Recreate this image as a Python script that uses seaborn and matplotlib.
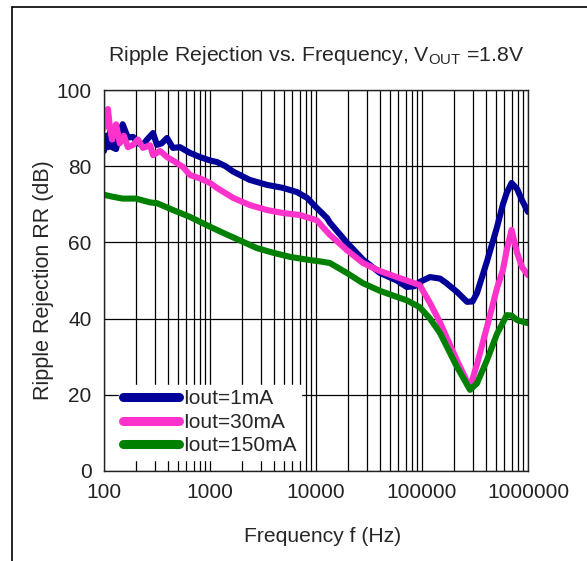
import numpy as np
import pandas as pd
import seaborn as sns
import matplotlib
matplotlib.use("Agg")
import matplotlib.pyplot as plt
from matplotlib.ticker import LogLocator, FuncFormatter, NullFormatter
from matplotlib.lines import Line2D

# values
freq_1mA = [100, 104, 109, 114, 119, 130, 141, 150, 160, 168, 188, 209, 233, 255, 290, 316, 350, 393,
            447, 520, 646, 804, 1000, 1163, 1400, 1650, 2370, 3450, 4890, 6620, 8230, 10200, 12700,
            13500, 19500, 27700, 40000, 57800, 71800, 85000, 95000, 119000, 148000, 170000, 214000,
            266000, 300000, 330000, 410000, 510000, 580000, 630000, 700000, 790000, 880000, 1000000]
rr_1mA = [84, 88, 85, 89, 85, 84.5, 89, 91, 89, 87.5, 87.7, 86, 85.6, 87, 88.7, 85.6, 86, 87.4,
          84.8, 85, 83.5, 82.4, 81.5, 81.1, 80, 78.6, 76.4, 75.1, 74.3, 73.2, 71.7, 69, 66.4,
          65.2, 60, 55.5, 52, 50, 48.3, 48.5, 49.6, 50.9, 50.5, 49.3, 47,
          44.4, 44.5, 46.7, 55, 64, 70, 73, 75.6, 74, 71, 68]

freq_30mA = [100, 104, 109, 114, 119, 130, 141, 154, 168, 188, 209, 233, 272, 290, 338, 393, 447, 556,
             646, 804, 1000, 1163, 1650, 2370, 3450, 4890, 7000, 10200, 11600, 13500, 19500, 27700,
             40000, 57800, 71800, 95000, 119000, 148000, 170000, 214000, 266000, 284000, 330000,
             410000, 510000, 580000, 630000, 700000, 790000, 880000, 1000000]
rr_30mA = [90, 94, 95, 90, 87, 91, 86, 88, 85, 85.6, 87, 84.8, 85.5, 82.9, 84, 82.4, 81.5, 79.8,
           77.7, 76.8, 75.6, 74.3, 71.7, 69.8, 68.5, 67.7, 67.2, 65.8, 64, 62, 58, 54.6,
           52.5, 50.9, 50, 48.8, 44.1, 39, 35.2, 29, 23.5, 22, 28,
           37.8, 48, 52.8, 58, 63.3, 57.2, 53.5, 51.4]

freq_150mA = [100, 120, 150, 200, 272, 316, 447, 646, 935, 1330, 1920, 2770, 3920, 5690, 8150, 11600,
              13500, 19500, 27700, 40000, 57800, 71800, 95000, 119000, 148000, 214000, 284000, 330000,
              410000, 510000, 630000, 700000, 790000, 1000000]
rr_150mA = [72.5, 72, 71.5, 71.5, 70.5, 70.3, 68.5, 66.7, 64.5, 62.5, 60.5, 58.5, 57.3, 56.2, 55.5, 54.9,
            54.6, 52, 49.3, 47.3, 45.7, 44.8, 43, 40, 36.2, 27.3, 21.3, 23,
            29.1, 36, 40.9, 40.8, 39.6, 38.8]

labels = ["Iout=1mA", "Iout=30mA", "Iout=150mA"]
colors = {"Iout=1mA": "#000099", "Iout=30mA": "#FF33CC", "Iout=150mA": "#008000"}

df = pd.concat([
    pd.DataFrame({"f": freq_1mA, "rr": rr_1mA, "load": labels[0]}),
    pd.DataFrame({"f": freq_30mA, "rr": rr_30mA, "load": labels[1]}),
    pd.DataFrame({"f": freq_150mA, "rr": rr_150mA, "load": labels[2]}),
])

sns.set_style("white")
plt.rcParams["font.family"] = ["Liberation Sans", "DejaVu Sans"]
plt.rcParams["mathtext.fontset"] = "custom"
plt.rcParams["mathtext.rm"] = "Liberation Sans"

fig = plt.figure(figsize=(5.87, 5.61), dpi=100)
ax = fig.add_axes([104 / 587, 90 / 561, 424 / 587, 381 / 561])

sns.lineplot(data=df, x="f", y="rr", hue="load", palette=colors, linewidth=4.4,
             estimator=None, sort=False, legend=False, ax=ax)
for ln in ax.lines:
    ln.set_solid_joinstyle("round")
    ln.set_solid_capstyle("round")

ax.set_xscale("log")
ax.set_xlim(100, 1e6)
ax.set_ylim(0, 100)
ax.set_yticks([0, 20, 40, 60, 80, 100])
ax.xaxis.set_major_locator(LogLocator(base=10, numticks=10))
ax.xaxis.set_minor_locator(LogLocator(base=10, subs=np.arange(2, 10), numticks=100))
ax.xaxis.set_major_formatter(FuncFormatter(lambda v, p: "%d" % round(v)))
ax.xaxis.set_minor_formatter(NullFormatter())
ax.grid(True, which="major", axis="both", color="black", linewidth=0.9)
ax.grid(True, which="minor", axis="x", color="black", linewidth=0.9)
ax.tick_params(which="both", length=0, labelsize=15, pad=9, colors="#222222")
for s in ax.spines.values():
    s.set_color("#222222")
    s.set_linewidth(1)

ax.set_xlabel("Frequency f (Hz)", fontsize=15.2, labelpad=18, x=0.515)
ax.set_ylabel("Ripple Rejection RR (dB)", fontsize=15.5, labelpad=1.5)
ax.set_title(r"Ripple Rejection vs. Frequency, V$_{\mathrm{OUT}}$ =1.8V", fontsize=15.3, pad=21)

handles = [Line2D([], [], color=colors[l], linewidth=6.5, solid_capstyle="round") for l in labels]
ax.legend(handles, labels, loc="lower left", bbox_to_anchor=(0.035, 0.03), fontsize=15,
          frameon=True, framealpha=1, edgecolor="white", fancybox=False,
          handlelength=2.7, handletextpad=0.2, labelspacing=0.22, borderpad=0.2, borderaxespad=0)

# outer frame of the original figure
fig.add_artist(Line2D([12 / 587, 12 / 587], [0, 1 - 7 / 561], color="black", linewidth=1.2,
                      transform=fig.transFigure))
fig.add_artist(Line2D([12 / 587, 1], [1 - 7 / 561, 1 - 7 / 561], color="black", linewidth=1.2,
                      transform=fig.transFigure))

fig.savefig("out.png", dpi=100)
